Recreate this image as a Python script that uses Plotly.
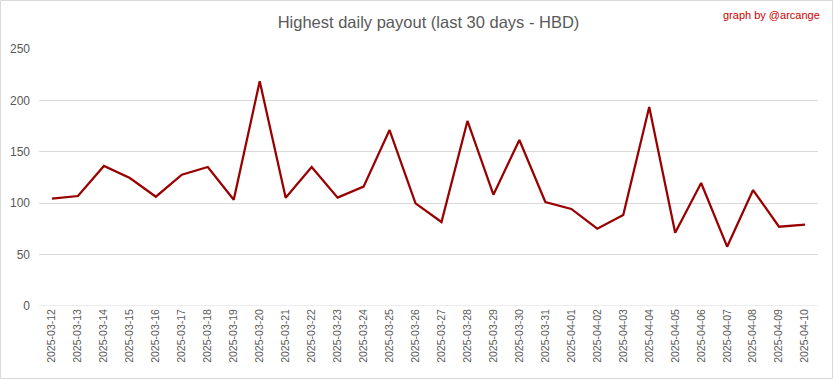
import plotly.graph_objects as go

dates = ["2025-03-12", "2025-03-13", "2025-03-14", "2025-03-15", "2025-03-16", "2025-03-17",
         "2025-03-18", "2025-03-19", "2025-03-20", "2025-03-21", "2025-03-22", "2025-03-23",
         "2025-03-24", "2025-03-25", "2025-03-26", "2025-03-27", "2025-03-28", "2025-03-29",
         "2025-03-30", "2025-03-31", "2025-04-01", "2025-04-02", "2025-04-03", "2025-04-04",
         "2025-04-05", "2025-04-06", "2025-04-07", "2025-04-08", "2025-04-09", "2025-04-10"]
payout = [104.4, 107.0, 136.2, 124.5, 106.3, 127.7, 135.2, 103.4, 218.6, 105.4,
          135.2, 105.4, 116.1, 171.2, 99.9, 81.7, 180.0, 108.3, 161.5, 101.2,
          94.4, 75.2, 88.5, 193.6, 71.3, 119.6, 57.7, 112.8, 77.1, 79.1]
y_ticks = [0, 50, 100, 150, 200, 250]

W, H = 833, 379
L, R, T, B = 39, 15, 49, 73
pw, ph = W - L - R, H - T - B

fig = go.Figure()
fig.add_trace(go.Scatter(x=dates, y=payout, mode="lines",
                         line=dict(color="#990000", width=2.25),
                         hoverinfo="x+y"))

font_main = "Liberation Sans Narrow, Liberation Sans, Arial, sans-serif"

fig.update_layout(
    width=W, height=H,
    margin=dict(l=L, r=R, t=T, b=B, autoexpand=False),
    paper_bgcolor="white", plot_bgcolor="white",
    showlegend=False,
    font=dict(family=font_main, color="#595959"),
    title=dict(text="Highest daily payout (last 30 days - HBD)",
               x=0.5, xref="paper", xanchor="center",
               y=1 - 22 / H, yanchor="middle",
               font=dict(size=16.5, color="#595959", family=font_main)),
    xaxis=dict(type="category", tickangle=-90, showgrid=False, showline=False,
               ticks="", tickfont=dict(size=10.5, color="#595959"),
               range=[-0.5, len(dates) - 0.5], automargin=False),
    yaxis=dict(range=[0, 250], tickvals=y_ticks, showgrid=True, gridcolor="#d9d9d9",
               gridwidth=1, zeroline=False, showline=False, ticks="",
               tickfont=dict(size=12, color="#595959"), ticklabelstandoff=8,
               automargin=False),
    annotations=[dict(text="graph by @arcange", xref="paper", yref="paper",
                      x=(W - 11 - L) / pw, y=(H - B - 15) / ph,
                      xanchor="right", yanchor="middle", showarrow=False,
                      font=dict(size=11, color="#cc0000", family=font_main))],
    shapes=[dict(type="line", xref="paper", yref="y", x0=0, x1=1, y0=0, y1=0,
                 line=dict(color="#d9d9d9", width=1)),
            dict(type="rect", xref="paper", yref="paper",
                 x0=(0.5 - L) / pw, x1=(W - 0.5 - L) / pw,
                 y0=-(H - 0.5 - (H - B)) / ph, y1=(H - B - 0.5) / ph,
                 line=dict(color="#d9d9d9", width=1), layer="below")],
)

fig.write_html("out.html", config={"displayModeBar": False},
               post_script="document.body.style.margin='0';document.body.style.overflow='hidden';")
